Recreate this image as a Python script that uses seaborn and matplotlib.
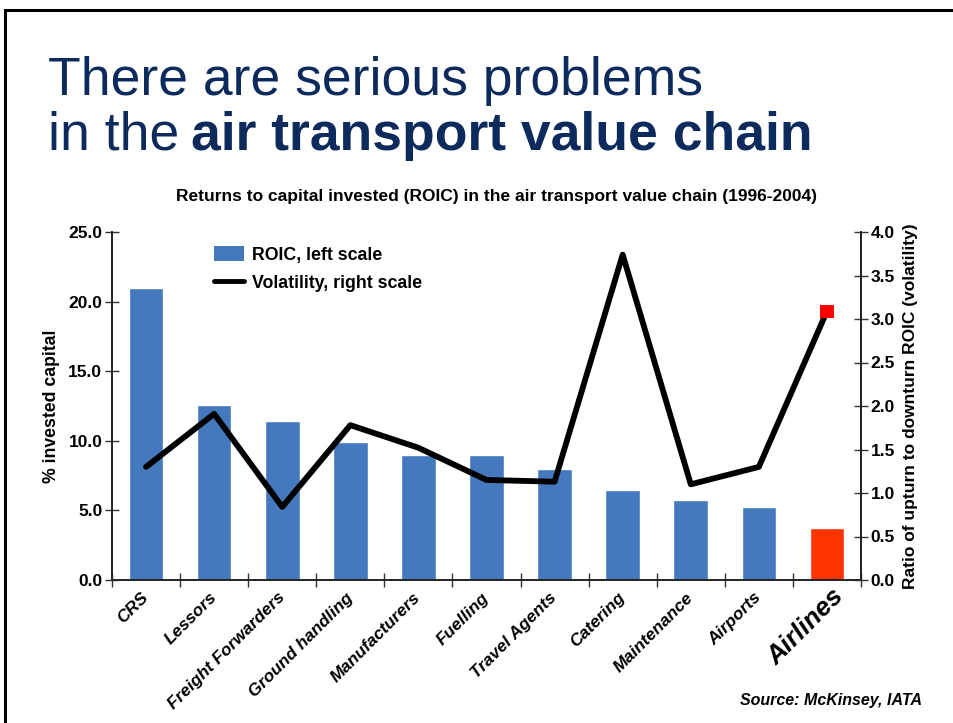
import numpy as np
import pandas as pd
import matplotlib
matplotlib.use("Agg")
import matplotlib.pyplot as plt
import seaborn as sns
from matplotlib.patches import Patch, Rectangle
from matplotlib.lines import Line2D

categories = ["CRS", "Lessors", "Freight Forwarders", "Ground handling", "Manufacturers",
              "Fuelling", "Travel Agents", "Catering", "Maintenance", "Airports", "Airlines"]
roic = [21.0, 12.6, 11.4, 9.9, 9.0, 9.0, 8.0, 6.5, 5.75, 5.25, 3.75]
volatility = [1.30, 1.91, 0.84, 1.78, 1.52, 1.15, 1.13, 3.74, 1.10, 1.30, 3.09]
left_ticks = [0.0, 5.0, 10.0, 15.0, 20.0, 25.0]
right_ticks = [0.0, 0.5, 1.0, 1.5, 2.0, 2.5, 3.0, 3.5, 4.0]

BLUE = "#4479BE"
ORANGE = "#FF3300"
NAVY = "#0C2A5C"

sns.set_theme(style="white")
plt.rcParams["font.family"] = ["Liberation Sans", "DejaVu Sans"]
plt.rcParams["text.color"] = "black"
plt.rcParams["axes.labelcolor"] = "black"
plt.rcParams["xtick.color"] = "black"
plt.rcParams["ytick.color"] = "black"

fig = plt.figure(figsize=(9.54, 7.23), dpi=100)
fig.patch.set_facecolor("white")

# slide border
fig.patches.append(Rectangle((5 / 954, -0.02), 1.05, 1 - 10 / 723 + 0.02,
                             transform=fig.transFigure, fill=False,
                             edgecolor="black", linewidth=2.2, zorder=0))

ax = fig.add_axes([112 / 954, 1 - 580 / 723, (861 - 112) / 954, (580 - 232) / 723])

df = pd.DataFrame({"category": categories, "roic": roic})
colors = [BLUE] * (len(categories) - 1) + [ORANGE]
sns.barplot(data=df, x="category", y="roic", hue="category", palette=colors,
            legend=False, width=0.51, saturation=1, ax=ax, zorder=2)

TICKFS = 12.5
ax.set_xlim(-0.5, len(categories) - 0.5)
ax.set_ylim(0, 25)
ax.set_yticks(left_ticks)
ax.set_yticklabels([f"{v:.1f}" for v in left_ticks], fontsize=TICKFS, fontweight="bold")
ax.set_ylabel("% invested capital", fontsize=12.7, fontweight="bold", labelpad=6)
ax.set_xlabel("")

# boundary ticks (major) and labels (minor)
ax.set_xticks(np.arange(-0.5, len(categories), 1.0))
ax.set_xticklabels([])
ax.set_xticks(np.arange(len(categories)), minor=True)
ax.set_xticklabels([c if c != "Airlines" else "" for c in categories], minor=True)
ax.tick_params(axis="x", which="major", direction="inout", length=10, width=1, color="#333333", bottom=True)
ax.tick_params(axis="x", which="minor", length=0, pad=11)
ax.tick_params(axis="y", direction="inout", length=10, width=1, color="#333333", left=True, pad=2)
for lbl in ax.get_xticklabels(minor=True):
    lbl.set_rotation(45)
    lbl.set_ha("right")
    lbl.set_va("center")
    lbl.set_rotation_mode("anchor")
    lbl.set_fontweight("bold")
    lbl.set_fontstyle("italic")
    lbl.set_fontsize(12.5)

# emphasised label for the last category
ax.annotate(categories[-1], xy=(len(categories) - 1, 0), xycoords=("data", "axes fraction"),
            xytext=(13, -13), textcoords="offset pixels", rotation=45, ha="right",
            va="center", rotation_mode="anchor", fontsize=19, fontweight="bold",
            fontstyle="italic", annotation_clip=False)

ax.spines["top"].set_visible(False)
for s in ["left", "bottom", "right"]:
    ax.spines[s].set_color("#222222")
    ax.spines[s].set_linewidth(1.3)

ax2 = ax.twinx()
x_pos = np.arange(len(categories))
sns.lineplot(x=x_pos, y=volatility, ax=ax2, color="black", linewidth=4.2, zorder=3)
sns.scatterplot(x=x_pos[-1:], y=volatility[-1:], ax=ax2, marker="s", color="#FF0000",
                s=90, edgecolor="none", zorder=4)
ax2.set_ylim(0, 4.0)
ax2.set_yticks(right_ticks)
ax2.set_yticklabels([f"{v:.1f}" for v in right_ticks], fontsize=TICKFS, fontweight="bold")
ax2.tick_params(axis="y", direction="inout", length=10, width=1, color="#333333", right=True, pad=2)
ax2.set_ylabel("Ratio of upturn to downturn ROIC (volatility)", fontsize=12.5,
               fontweight="bold", labelpad=6)
ax2.spines["top"].set_visible(False)
ax2.spines["right"].set_color("#222222")
ax2.spines["right"].set_linewidth(1.3)
ax2.set_xlim(-0.5, len(categories) - 0.5)

handles = [Patch(facecolor=BLUE, edgecolor="none", label="ROIC, left scale"),
           Line2D([0], [0], color="black", linewidth=3.5, label="Volatility, right scale")]
leg = ax.legend(handles=handles, loc="upper left", bbox_to_anchor=(200 / 954, 1 - 232 / 723),
                bbox_transform=fig.transFigure, frameon=False,
                prop={"weight": "bold", "size": 12.8}, handlelength=1.7, handleheight=0.9,
                labelspacing=0.6, handletextpad=0.45, borderpad=0.3)

# titles
TFS = 38.5
fig.text(48 / 954, 1 - 95 / 723, "There are serious problems", fontsize=TFS, color=NAVY,
         ha="left", va="baseline")
t_in = fig.text(48 / 954, 1 - 150 / 723, "in the", fontsize=TFS, color=NAVY,
                ha="left", va="baseline")
renderer = fig.canvas.get_renderer()
bb = t_in.get_window_extent(renderer=renderer)
x_next = (bb.x1 + 12) / fig.bbox.width
fig.text(x_next, 1 - 150 / 723, "air transport value chain", fontsize=TFS, color=NAVY,
         fontweight="bold", ha="left", va="baseline")
fig.text(497 / 954, 1 - 196 / 723,
         "Returns to capital invested (ROIC) in the air transport value chain (1996-2004)",
         fontsize=12.5, fontweight="bold", ha="center", va="center")
fig.text(922 / 954, 1 - 701 / 723, "Source: McKinsey, IATA", fontsize=11.5,
         fontweight="bold", fontstyle="italic", ha="right", va="center")

fig.savefig("out.png", dpi=100, facecolor="white")
